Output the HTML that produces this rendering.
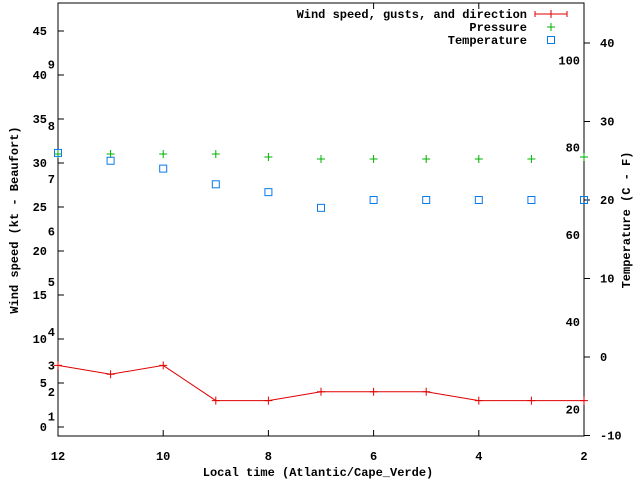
<!DOCTYPE html>
<html><head><meta charset="utf-8"><style>
body{margin:0;background:#fff}
svg{display:block}
text{font-family:"Liberation Mono",monospace;font-size:12px;font-weight:bold;fill:#000}
</style></head><body>
<svg id="chart" width="640" height="480" viewBox="0 0 640 480">
<g id="axes"></g>
<g id="series"></g>
<g>
<text x="527" y="18" text-anchor="end">Wind speed, gusts, and direction</text>
<line x1="535" y1="14" x2="567" y2="14" stroke="#e00000"/>
<line x1="535" y1="11" x2="535" y2="17" stroke="#e00000"/>
<line x1="567" y1="11" x2="567" y2="17" stroke="#e00000"/>
<path d="M547 14h8M551 10v8" stroke="#e00000"/>
<text x="527" y="31" text-anchor="end">Pressure</text>
<path d="M547 27h8M551 23v8" stroke="#00b000"/>
<text x="527" y="44" text-anchor="end">Temperature</text>
<rect x="547.5" y="36.5" width="7" height="7" fill="none" stroke="#0a7ae8"/>
</g>
<text x="318" y="476" text-anchor="middle">Local time (Atlantic/Cape_Verde)</text>
<text transform="translate(18,220) rotate(-90)" text-anchor="middle">Wind speed (kt - Beaufort)</text>
<text transform="translate(630,220) rotate(-90)" text-anchor="middle">Temperature (C - F)</text>
</svg>
<script>
const hours=[12,11,10,9,8,7,6,5,4,3,2];
const wind=[7,6,7,3,3,4,4,4,3,3,3];
const pressure=[1014,1014,1014,1014,1013.4,1013,1013,1013,1013,1013,1013.4];
const tempC=[26,25,24,22,21,19,20,20,20,20,20];
const xTicks=[12,10,8,6,4,2];
const ktTicks=[0,5,10,15,20,25,30,35,40,45];
const bftLabels=[1,2,3,4,5,6,7,8,9];
const bftKt=[1.2,4,7,10.8,16.5,22.2,28.2,34.2,41.2];
const cTicks=[-10,0,10,20,30,40];
const fTicks=[20,40,60,80,100];
const NS="http://www.w3.org/2000/svg";
const L=58,R=584,T=3,B=436;
const xs=h=>L+(12-h)*(R-L)/10;
const yk=k=>427-k*8.8;
const yc=c=>357-c*7.85;
const yf=f=>yc((f-32)*5/9);
const yp=p=>159-(p-1013)*5;
function mk(tag,a,par){const e=document.createElementNS(NS,tag);for(const k in a)e.setAttribute(k,a[k]);par.appendChild(e);return e;}
const ax=document.getElementById('axes'),se=document.getElementById('series');
let e=mk('rect',{x:L,y:T,width:R-L,height:B-T,fill:'none',stroke:'#000'},ax);


xTicks.forEach(h=>{const x=xs(h);
 let t=mk('line',{x1:x,y1:B,x2:x,y2:B-6,stroke:'#000'},ax);
 
 
 let l=mk('text',{x:x,y:460,'text-anchor':'middle'},ax);l.textContent=h;
 
 
});
[6,4].forEach(h=>{let t=mk('line',{x1:xs(h),y1:T,x2:xs(h),y2:T+6,stroke:'#000'},ax);
 
 });
ktTicks.forEach(k=>{const y=yk(k);
 let t=mk('line',{x1:L,y1:y,x2:L+6,y2:y,stroke:'#000'},ax);
 
 
 let l=mk('text',{x:47,y:y+4,'text-anchor':'end'},ax);l.textContent=k;
 
 
});
bftLabels.forEach((b,i)=>{let l=mk('text',{x:55,y:yk(bftKt[i])+4,'text-anchor':'end'},ax);l.textContent=b;
 
 });
cTicks.forEach(c=>{const y=yc(c);
 let t=mk('line',{x1:R,y1:y,x2:R+6,y2:y,stroke:'#000'},ax);
 
 
 let l=mk('text',{x:600,y:y+4},ax);l.textContent=c;
 
 
});
fTicks.forEach(f=>{let l=mk('text',{x:580,y:yf(f)+4,'text-anchor':'end'},ax);l.textContent=f;
 
 });
let pl=mk('polyline',{points:hours.map((h,i)=>xs(h)+','+yk(wind[i])).join(' '),fill:'none',stroke:'#e00000'},se);


hours.forEach((h,i)=>{const x=xs(h);
 let m=mk('path',{d:`M${x-4} ${yk(wind[i])}h8M${x} ${yk(wind[i])-4}v8`,stroke:'#e00000'},se);
 
 
 let p=mk('path',{d:`M${x-4} ${yp(pressure[i])}h8M${x} ${yp(pressure[i])-4}v8`,stroke:'#00b000'},se);
 
 
 let s=mk('rect',{x:x-3.5,y:yc(tempC[i])-3.5,width:7,height:7,fill:'none',stroke:'#0a7ae8'},se);
 
 
});
</script>
</body></html>
